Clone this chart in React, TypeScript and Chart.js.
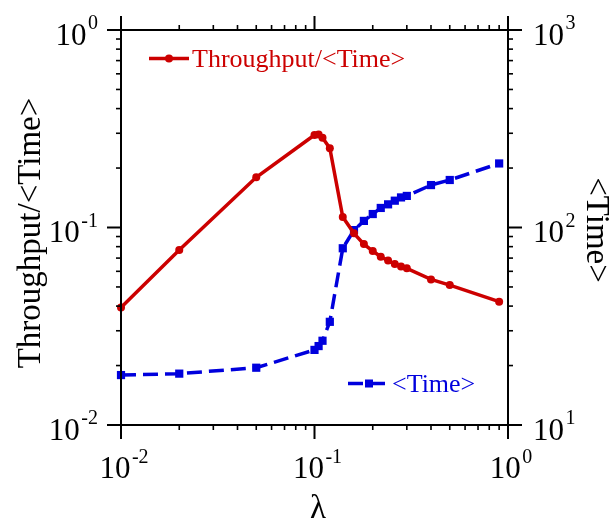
import React, { useEffect, useRef } from "react";
import { Chart, registerables } from "chart.js";

Chart.register(...registerables);

const lambdas = [0.01, 0.02, 0.05, 0.1, 0.105, 0.11, 0.12, 0.14, 0.16, 0.18, 0.2, 0.22, 0.24, 0.26, 0.28, 0.3, 0.4, 0.5, 0.9];
const throughputPerTime = [0.0393, 0.0769, 0.1795, 0.294, 0.296, 0.285, 0.252, 0.113, 0.0934, 0.0824, 0.076, 0.0711, 0.068, 0.0653, 0.0634, 0.0621, 0.0546, 0.0511, 0.0421];
const meanTime = [17.9, 18.2, 19.5, 24.0, 25.1, 26.7, 33.3, 78.5, 97, 108, 117, 125.6, 131, 136.7, 142, 144.5, 164, 174, 211];

const xTickExps = [-2, -1, 0];
const yLeftTickExps = [-2, -1, 0];
const yRightTickExps = [1, 2, 3];

const RED = "#cc0000";
const BLUE = "#0000dd";
const FONT = "'Liberation Serif', 'Times New Roman', serif";

function drawPow(ctx: CanvasRenderingContext2D, exp: number, x: number, baseline: number, align: "left" | "right" | "center") {
  const base = "10";
  const e = String(exp);
  ctx.font = `31px ${FONT}`;
  const wb = ctx.measureText(base).width;
  ctx.font = `20px ${FONT}`;
  const we = ctx.measureText(e).width;
  const gap = 1.5;
  const total = wb + gap + we;
  let start = x;
  if (align === "right") start = x - total;
  else if (align === "center") start = x - total / 2;
  ctx.textAlign = "left";
  ctx.textBaseline = "alphabetic";
  ctx.font = `31px ${FONT}`;
  ctx.fillText(base, start, baseline);
  ctx.font = `20px ${FONT}`;
  ctx.fillText(e, start + wb + gap, baseline - 15.5);
}

const framePlugin = {
  id: "framePlugin",
  afterDraw(chart: any) {
    const ctx: CanvasRenderingContext2D = chart.ctx;
    const { left, right, top, bottom } = chart.chartArea;
    const xs = chart.scales.x;
    const yl = chart.scales.y;
    const yr = chart.scales.y2;
    ctx.save();
    ctx.strokeStyle = "#000";
    ctx.fillStyle = "#000";
    ctx.lineWidth = 2;
    ctx.strokeRect(left, top, right - left, bottom - top);

    const MAJ = 14;
    const MIN = 5;
    for (let k = -2; k <= 0; k++) {
      for (let m = 1; m <= 9; m++) {
        const v = m * Math.pow(10, k);
        if (v > 1.0001) continue;
        const px = xs.getPixelForValue(v);
        const len = m === 1 ? MAJ : MIN;
        ctx.lineWidth = m === 1 ? 2 : 1.6;
        ctx.beginPath();
        ctx.moveTo(px, bottom);
        ctx.lineTo(px, bottom + len);
        ctx.moveTo(px, top);
        ctx.lineTo(px, top - len);
        ctx.stroke();
      }
    }
    for (let k = -2; k <= 0; k++) {
      for (let m = 1; m <= 9; m++) {
        const v = m * Math.pow(10, k);
        if (v > 1.0001) continue;
        const py = yl.getPixelForValue(v);
        const len = m === 1 ? MAJ : MIN;
        ctx.lineWidth = m === 1 ? 2 : 1.6;
        ctx.beginPath();
        ctx.moveTo(left, py);
        ctx.lineTo(left - len, py);
        ctx.stroke();
      }
    }
    for (let k = 1; k <= 3; k++) {
      for (let m = 1; m <= 9; m++) {
        const v = m * Math.pow(10, k);
        if (v > 1000.01) continue;
        const py = yr.getPixelForValue(v);
        const len = m === 1 ? MAJ : MIN;
        ctx.lineWidth = m === 1 ? 2 : 1.6;
        ctx.beginPath();
        ctx.moveTo(right, py);
        ctx.lineTo(right + len, py);
        ctx.stroke();
      }
    }

    xTickExps.forEach((e) => {
      const px = xs.getPixelForValue(Math.pow(10, e));
      drawPow(ctx, e, px + 3, 478, "center");
    });
    yLeftTickExps.forEach((e) => {
      const py = yl.getPixelForValue(Math.pow(10, e));
      drawPow(ctx, e, 98, py + 14.5, "right");
    });
    yRightTickExps.forEach((e) => {
      const py = yr.getPixelForValue(Math.pow(10, e));
      drawPow(ctx, e, 533, py + 14.5, "left");
    });

    ctx.font = `33px ${FONT}`;
    ctx.textAlign = "center";
    ctx.textBaseline = "middle";
    ctx.save();
    ctx.translate(31, 233);
    ctx.rotate(-Math.PI / 2);
    ctx.fillText("Throughput/<Time>", 0, 0);
    ctx.restore();
    ctx.save();
    ctx.translate(596, 230);
    ctx.rotate(Math.PI / 2);
    ctx.fillText("<Time>", 0, 0);
    ctx.restore();
    ctx.textBaseline = "alphabetic";
    ctx.fillText("λ", 318, 518);

    ctx.lineWidth = 3.5;
    ctx.strokeStyle = RED;
    ctx.fillStyle = RED;
    ctx.beginPath();
    ctx.moveTo(149, 58.5);
    ctx.lineTo(189, 58.5);
    ctx.stroke();
    ctx.beginPath();
    ctx.arc(169, 58.5, 4, 0, Math.PI * 2);
    ctx.fill();
    ctx.font = `26px ${FONT}`;
    ctx.textAlign = "left";
    ctx.textBaseline = "alphabetic";
    ctx.fillText("Throughput/<Time>", 192, 67);

    ctx.strokeStyle = BLUE;
    ctx.fillStyle = BLUE;
    ctx.setLineDash([15, 7]);
    ctx.beginPath();
    ctx.moveTo(348, 383.5);
    ctx.lineTo(389, 383.5);
    ctx.stroke();
    ctx.setLineDash([]);
    ctx.fillRect(365, 379.5, 8, 8);
    ctx.fillText("<Time>", 392, 392);
    ctx.restore();
  },
};

export default function App() {
  const ref = useRef<HTMLCanvasElement | null>(null);
  useEffect(() => {
    if (!ref.current) return;
    const chart = new Chart(ref.current, {
      type: "line",
      data: {
        datasets: [
          {
            label: "Throughput/<Time>",
            data: lambdas.map((x, i) => ({ x, y: throughputPerTime[i] })),
            yAxisID: "y",
            borderColor: RED,
            backgroundColor: RED,
            borderWidth: 3.5,
            pointRadius: 4,
            pointStyle: "circle",
            pointBorderWidth: 0,
            tension: 0,
            clip: false as any,
          },
          {
            label: "<Time>",
            data: lambdas.map((x, i) => ({ x, y: meanTime[i] })),
            yAxisID: "y2",
            borderColor: BLUE,
            backgroundColor: BLUE,
            borderWidth: 3.5,
            borderDash: [15, 7],
            pointRadius: 5.8,
            pointStyle: "rect",
            pointBorderWidth: 0,
            tension: 0,
            clip: false as any,
          },
        ],
      },
      options: {
        animation: false,
        responsive: false,
        layout: { padding: { left: 121, top: 30, right: 107, bottom: 97 } },
        plugins: { legend: { display: false }, tooltip: { enabled: false } },
        scales: {
          x: { type: "logarithmic", min: 0.01, max: 1, display: false },
          y: { type: "logarithmic", min: 0.01, max: 1, display: false },
          y2: { type: "logarithmic", min: 10, max: 1000, display: false, position: "right" },
        },
      },
      plugins: [framePlugin],
    });
    return () => chart.destroy();
  }, []);
  return (
    <div style={{ position: "fixed", left: 0, top: 0, width: 615, height: 522, background: "#fff" }}>
      <canvas ref={ref} width={615} height={522} style={{ width: 615, height: 522, display: "block" }} />
    </div>
  );
}
